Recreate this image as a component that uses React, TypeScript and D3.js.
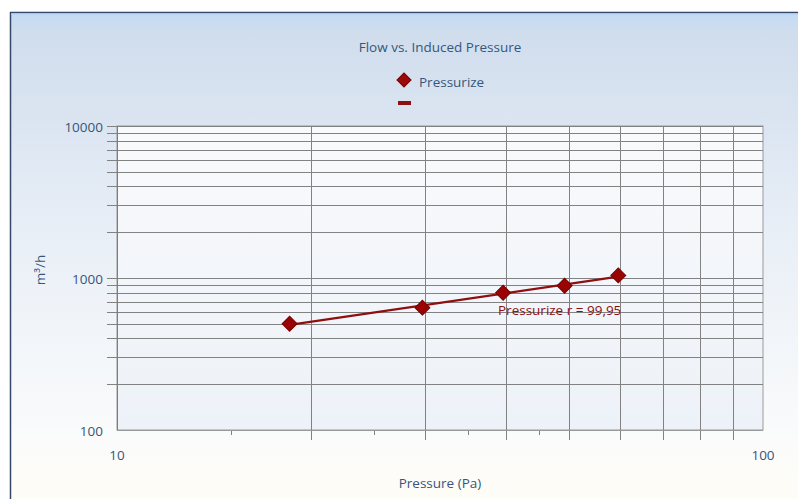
import React from "react";
import * as d3 from "d3";

const pressure = [18.5, 29.7, 39.6, 49.3, 59.7];
const flow = [500, 638, 800, 890, 1040];
const xTickLabels = [10, 100];
const yTickLabels = [100, 1000, 10000];
const xGrid = [20, 30, 40, 50, 60, 70, 80, 90];
const xMinorTicks = [15, 25, 35, 45];
const yGrid = [200, 300, 400, 500, 600, 700, 800, 900, 1000, 2000, 3000, 4000, 5000, 6000, 7000, 8000, 9000, 10000];
const seriesName = "Pressurize";
const rLabel = "Pressurize r = 99,95";
const title = "Flow vs. Induced Pressure";
const xTitle = "Pressure (Pa)";
const yTitle = "m³/h";

const W = 798, H = 499;
const L = 117, R = 763, T = 126, B = 430;
const FONT = "'Segoe UI', 'Open Sans', 'Noto Sans', sans-serif";
const FS = 13.5;
const TXT = "#36567c";
const GRID = "#828282";
const RED = "#8e0f0f";

export default function App() {
  const x = d3.scaleLog().domain([10, 100]).range([L, R]);
  const y = d3.scaleLog().domain([100, 10000]).range([B, T]);

  // power fit (linear regression in log-log space)
  const lx = pressure.map(Math.log10), ly = flow.map(Math.log10);
  const mx = d3.mean(lx)!, my = d3.mean(ly)!;
  const slope = d3.sum(lx.map((v, i) => (v - mx) * (ly[i] - my))) / d3.sum(lx.map(v => (v - mx) ** 2));
  const icpt = my - slope * mx;
  const fit = (p: number) => Math.pow(10, icpt + slope * Math.log10(p));
  const x0 = d3.min(pressure)!, x1 = d3.max(pressure)!;
  const line = d3.line<number>().x(d => x(d)).y(d => y(fit(d)));

  const diamond = d3.symbol().type(d3.symbolSquare).size(112)();
  const diamondLegend = d3.symbol().type(d3.symbolSquare).size(100)();

  return (
    <svg width={W} height={H} style={{ position: "absolute", left: 0, top: 0, display: "block" }} fontFamily={FONT}>
      <defs>
        <linearGradient id="bg" x1="0" y1="0" x2="0" y2="1">
          <stop offset="0" stopColor="#c3daf5" />
          <stop offset="0.04" stopColor="#d0dded" />
          <stop offset="0.45" stopColor="#e9eff7" />
          <stop offset="0.85" stopColor="#fafbfb" />
          <stop offset="1" stopColor="#fffdf6" />
        </linearGradient>
        <linearGradient id="plotbg" x1="0" y1="0" x2="0" y2="1">
          <stop offset="0" stopColor="#f9fafc" />
          <stop offset="1" stopColor="#edf2f8" />
        </linearGradient>
      </defs>
      <rect x={0} y={0} width={W} height={H} fill="#ffffff" />
      <rect x={10} y={12} width={W} height={H} fill="url(#bg)" />
      <line x1={10} y1={12.5} x2={W} y2={12.5} stroke="#34496a" strokeWidth={1.5} />
      <line x1={10.5} y1={12} x2={10.5} y2={H} stroke="#34496a" strokeWidth={1.5} />
      <line x1={11} y1={14} x2={W} y2={14} stroke="#b9d3f0" strokeWidth={1} />

      <rect x={L} y={T} width={R - L} height={B - T} fill="url(#plotbg)" stroke="#9a9a9a" strokeWidth={1} />

      {yGrid.map(v => (
        <line key={"yg" + v} x1={L - 10} x2={R} y1={Math.round(y(v)) + 0.5} y2={Math.round(y(v)) + 0.5} stroke={GRID} strokeWidth={1} />
      ))}
      {xGrid.map(v => (
        <line key={"xg" + v} x1={Math.round(x(v)) + 0.5} x2={Math.round(x(v)) + 0.5} y1={T} y2={B + 10} stroke={GRID} strokeWidth={1} />
      ))}
      {xMinorTicks.map(v => (
        <line key={"xm" + v} x1={Math.round(x(v)) + 0.5} x2={Math.round(x(v)) + 0.5} y1={B} y2={B + 5} stroke={GRID} strokeWidth={1} />
      ))}
      <line x1={L + 0.5} x2={L + 0.5} y1={T} y2={B} stroke="#7d7d7d" />
      <line x1={L} x2={R} y1={B + 0.5} y2={B + 0.5} stroke="#9a9a9a" />

      {yTickLabels.map(v => (
        <text key={"yl" + v} x={103} y={y(v) + 1} dy="0.35em" textAnchor="end" fontSize={FS} fill={TXT}>{v}</text>
      ))}
      {xTickLabels.map(v => (
        <text key={"xl" + v} x={x(v)} y={455} dy="0.35em" textAnchor="middle" fontSize={FS} fill={TXT}>{v}</text>
      ))}

      <text x={440} y={47} dy="0.35em" textAnchor="middle" fontSize={FS} fill={TXT}>{title}</text>
      <path d={diamondLegend} transform={`translate(404,80) rotate(45)`} fill="#9a0a0a" stroke="#7a0000" />
      <text x={419} y={82} dy="0.35em" fontSize={FS} fill={TXT}>{seriesName}</text>
      <rect x={398} y={101} width={13} height={4} fill="#8e0f0f" />

      <text x={440} y={483} dy="0.35em" textAnchor="middle" fontSize={FS} fill={TXT}>{xTitle}</text>
      <text transform={`translate(40,270) rotate(-90)`} dy="0.35em" textAnchor="middle" fontSize={FS} fill={TXT}>{yTitle}</text>

      <path d={line([x0, x1])!} fill="none" stroke={RED} strokeWidth={2.3} />
      {pressure.map((p, i) => (
        <path key={"pt" + i} d={diamond} transform={`translate(${x(p)},${y(flow[i])}) rotate(45)`} fill="#990303" stroke="#7a0000" strokeWidth={1} />
      ))}
      <text x={498} y={310} dy="0.35em" fontSize={FS} fill={RED}>{rLabel}</text>
    </svg>
  );
}
